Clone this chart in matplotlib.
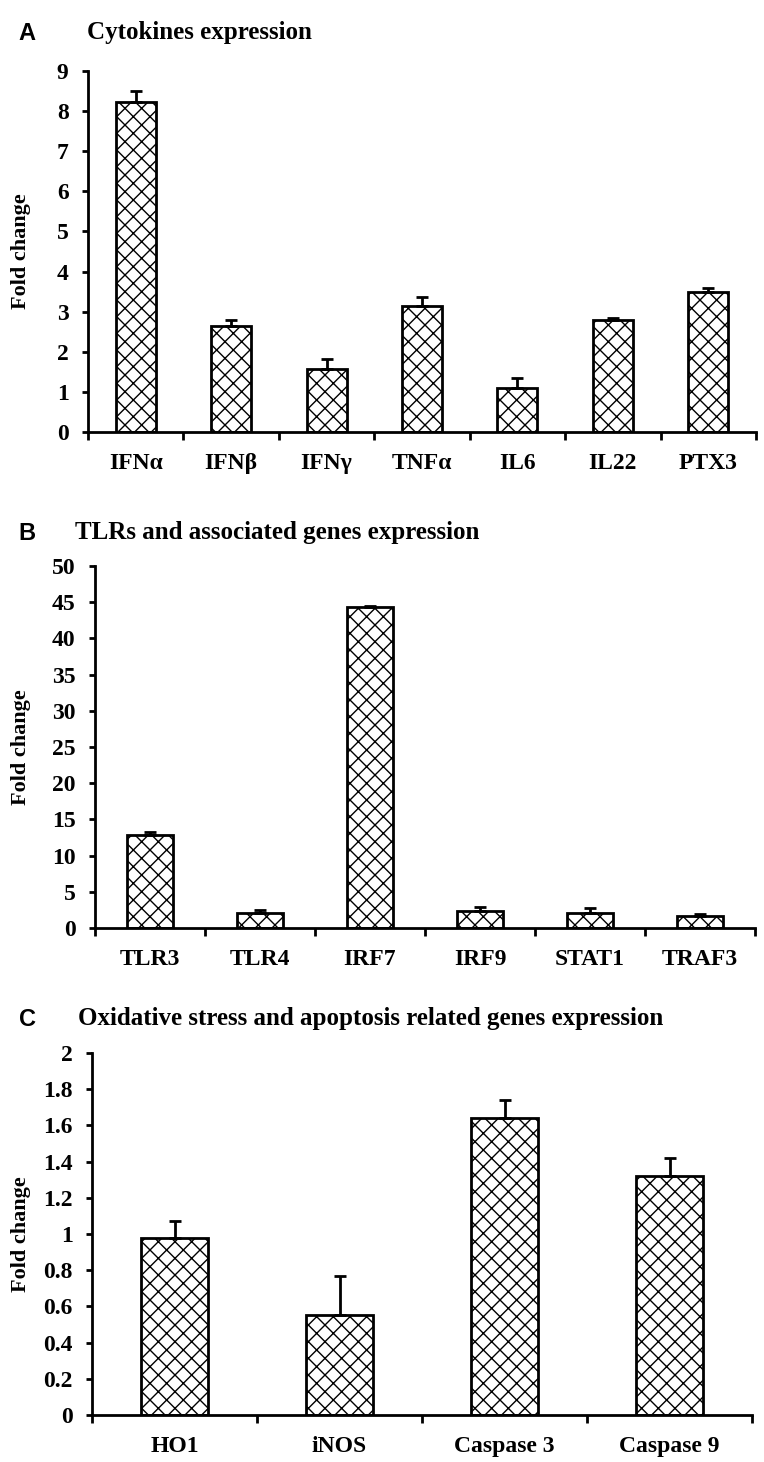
import matplotlib
matplotlib.use("Agg")
import matplotlib.pyplot as plt
import numpy as np

# ---------------- data ----------------
genes_a = ["IFNα", "IFNβ", "IFNγ", "TNFα", "IL6", "IL22", "PTX3"]
fold_a = [8.22, 2.64, 1.57, 3.15, 1.10, 2.78, 3.50]
err_a = [0.28, 0.15, 0.25, 0.22, 0.25, 0.07, 0.10]

genes_b = ["TLR3", "TLR4", "IRF7", "IRF9", "STAT1", "TRAF3"]
fold_b = [12.9, 2.1, 44.4, 2.3, 2.1, 1.6]
err_b = [0.4, 0.4, 0.1, 0.6, 0.6, 0.4]

genes_c = ["HO1", "iNOS", "Caspase 3", "Caspase 9"]
fold_c = [0.98, 0.55, 1.64, 1.32]
err_c = [0.09, 0.22, 0.10, 0.10]

titles = ["Cytokines expression",
          "TLRs and associated genes expression",
          "Oxidative stress and apoptosis related genes expression"]
letters = ["A", "B", "C"]
yticks_a = list(range(0, 10))
yticks_b = list(range(0, 55, 5))
yticks_c = [0, 0.2, 0.4, 0.6, 0.8, 1, 1.2, 1.4, 1.6, 1.8, 2]
ytick_labels_c = ["0", "0.2", "0.4", "0.6", "0.8", "1", "1.2", "1.4", "1.6", "1.8", "2"]

# ---------------- style ----------------
W, H = 764, 1462
plt.rcParams['hatch.linewidth'] = 1.0
SERIF = ['Liberation Serif', 'DejaVu Serif']
SANS = ['Liberation Sans', 'DejaVu Sans']

fig = plt.figure(figsize=(W / 100, H / 100), dpi=100)


def px_axes(left, right, top, bottom):
    return fig.add_axes([left / W, 1 - bottom / H, (right - left) / W, (bottom - top) / H])


def draw_panel(ax, genes, vals, errs, ymax, yticks, ylabels, bar_w):
    n = len(genes)
    x = np.arange(n) + 0.5
    ax.bar(x, vals, width=bar_w, color='white', edgecolor='black',
           linewidth=2.0, hatch='xx', zorder=2)
    ax.errorbar(x, vals, yerr=[np.zeros(n), errs], fmt='none', ecolor='black',
                elinewidth=2.0, capsize=4, capthick=2.0, zorder=3)
    ax.set_xlim(0, n)
    ax.set_ylim(0, ymax)
    for s in ['top', 'right']:
        ax.spines[s].set_visible(False)
    for s in ['left', 'bottom']:
        ax.spines[s].set_linewidth(2.0)
    ax.set_yticks(yticks)
    ax.set_yticklabels(ylabels, fontfamily=SERIF, fontweight='bold', fontsize=17)
    ax.tick_params(axis='y', direction='out', length=4, width=2.0, pad=10)
    ax.set_xticks(np.arange(n + 1))
    ax.set_xticklabels([])
    ax.tick_params(axis='x', which='major', direction='out', length=6, width=2.0)
    ax.set_xticks(x, minor=True)
    ax.set_xticklabels(genes, minor=True, fontfamily=SERIF, fontweight='bold', fontsize=17)
    ax.tick_params(axis='x', which='minor', length=0, pad=15)
    ax.set_facecolor('white')


# Panel A
axA = px_axes(88, 756, 71, 432)
draw_panel(axA, genes_a, fold_a, err_a, 9, yticks_a, [str(v) for v in yticks_a], 0.42)
# Panel B
axB = px_axes(95, 755, 566, 928)
draw_panel(axB, genes_b, fold_b, err_b, 50, yticks_b, [str(v) for v in yticks_b], 0.41)
# Panel C
axC = px_axes(92, 752, 1053, 1415)
draw_panel(axC, genes_c, fold_c, err_c, 2, yticks_c, ytick_labels_c, 0.41)

# titles, letters and y labels
title_pos = [(87, 33), (75, 533), (78, 1019)]
for (tx, ty), t, l in zip(title_pos, titles, letters):
    fig.text(tx / W, 1 - ty / H, t, fontfamily=SERIF, fontweight='bold',
             fontsize=18, ha='left', va='center')
    fig.text(27 / W, 1 - ty / H, l, fontfamily=SANS, fontweight='bold',
             fontsize=17, ha='center', va='center')

for top, bot in [(71, 432), (566, 928), (1053, 1415)]:
    fig.text(21 / W, 1 - ((top + bot) / 2) / H, "Fold change", fontfamily=SERIF,
             fontweight='bold', fontsize=16, rotation=90, ha='center', va='center')

fig.savefig("out.png", dpi=100, facecolor='white')
